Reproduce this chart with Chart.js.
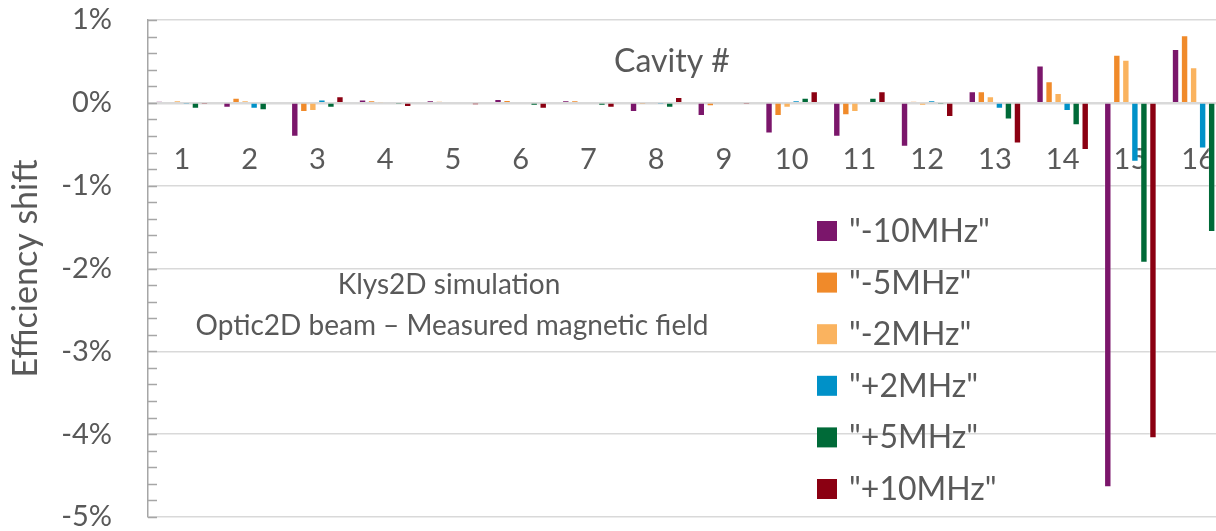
<!DOCTYPE html>
<html>
<head>
<meta charset="utf-8">
<script src="https://cdn.jsdelivr.net/npm/chart.js@4.4.1/dist/chart.umd.min.js"></script>
<style>
  html, body { margin: 0; padding: 0; background: #ffffff; overflow: hidden; }
  #wrap { width: 1240px; height: 531px; }
</style>
</head>
<body>
<div id="wrap"><canvas id="chart" width="1240" height="531"></canvas></div>
<script>
// Cavity numbers along the category axis
const cavities = ['1', '2', '3', '4', '5', '6', '7', '8', '9', '10', '11', '12', '13', '14', '15', '16'];

// Series names (frequency detuning)
const seriesNames = ['"-10MHz"', '"-5MHz"', '"-2MHz"', '"+2MHz"', '"+5MHz"', '"+10MHz"'];

// Efficiency shift per cavity, in percent
const shiftMinus10 = [0.02, -0.06, -0.41, 0.04, 0.03, 0.045, 0.03, -0.11, -0.16, -0.37, -0.41, -0.53, 0.14, 0.45, -4.64, 0.65];
const shiftMinus5  = [0.01, 0.06, -0.11, 0.03, 0.02, 0.035, 0.03, -0.02, -0.04, -0.16, -0.15, 0.02, 0.14, 0.26, 0.58, 0.815];
const shiftMinus2  = [0.03, 0.03, -0.10, 0.005, 0.01, 0.01, 0.01, 0.0, 0.0, -0.06, -0.11, -0.035, 0.08, 0.12, 0.52, 0.43];
const shiftPlus2   = [-0.02, -0.07, 0.04, 0.0, 0.0, 0.0, 0.0, -0.02, 0.01, 0.03, 0.0, 0.03, -0.07, -0.10, -0.71, -0.55];
const shiftPlus5   = [-0.07, -0.09, -0.06, -0.02, 0.0, -0.035, -0.035, -0.06, 0.0, 0.06, 0.06, -0.02, -0.20, -0.27, -1.93, -1.56];
const shiftPlus10  = [-0.02, 0.0, 0.08, -0.05, -0.025, -0.07, -0.06, 0.07, -0.02, 0.14, 0.14, -0.17, -0.49, -0.57, -4.05, -3.0];

// Value axis range and tick step, in percent
const yMin = -5;
const yMax = 1;
const yStep = 1;
const yMinorStep = 0.2;

const seriesColors = ['#7b166b', '#f08a2a', '#fab35f', '#0091c8', '#006a38', '#8b0012'];
const seriesValues = [shiftMinus10, shiftMinus5, shiftMinus2, shiftPlus2, shiftPlus5, shiftPlus10];

const textColor = '#595959';
const fontFamily = 'Lato, "Open Sans", sans-serif';

// Small inside tick marks along the value axis every 0.2 %
const minorTicks = {
  id: 'minorTicks',
  beforeDatasetsDraw(chart) {
    const y = chart.scales.y;
    const ctx = chart.ctx;
    const x0 = chart.chartArea.left;
    ctx.save();
    ctx.strokeStyle = '#a6a6a6';
    ctx.lineWidth = 1.5;
    const n = Math.round((yMax - yMin) / yMinorStep);
    for (let k = 0; k <= n; k++) {
      const py = Math.round(y.getPixelForValue(yMin + k * yMinorStep)) + 0.5;
      ctx.beginPath();
      ctx.moveTo(x0, py);
      ctx.lineTo(x0 + 9, py);
      ctx.stroke();
    }
    ctx.restore();
  }
};

// Axis caption, notes and the series key
const overlayText = {
  id: 'overlayText',
  afterDraw(chart) {
    const ctx = chart.ctx;
    ctx.save();
    ctx.fillStyle = textColor;
    ctx.textBaseline = 'alphabetic';

    ctx.textAlign = 'center';
    ctx.font = '32px ' + fontFamily;
    ctx.fillText('Cavity #', 672, 72);

    ctx.font = '28px ' + fontFamily;
    ctx.fillText('Klys2D simulation', 449, 294);
    ctx.fillText('Optic2D beam \u2013 Measured magnetic field', 452, 335);

    ctx.textAlign = 'left';
    ctx.font = '32px ' + fontFamily;
    chart.data.datasets.forEach((ds, i) => {
      const top = 221 + i * 51.6;
      ctx.fillStyle = ds.backgroundColor;
      ctx.fillRect(817, top, 20, 20);
      ctx.fillStyle = textColor;
      ctx.fillText(ds.label, 849, top + 21);
    });
    ctx.restore();
  }
};

new Chart(document.getElementById('chart'), {
  type: 'bar',
  data: {
    labels: cavities,
    datasets: seriesNames.map((name, i) => ({
      label: name,
      data: seriesValues[i],
      backgroundColor: seriesColors[i],
      borderColor: 'rgba(255,255,255,0.3)',
      borderWidth: 1,
      barPercentage: 0.82,
      categoryPercentage: 0.8
    }))
  },
  options: {
    responsive: false,
    animation: false,
    devicePixelRatio: 1,
    layout: { padding: { top: 20, bottom: 14, left: 0, right: 8 } },
    plugins: {
      legend: { display: false },
      tooltip: { enabled: false }
    },
    scales: {
      x: {
        position: { y: 0 },
        z: 1,
        offset: true,
        grid: { display: false },
        border: { display: true, color: '#d9d9d9', width: 2.5 },
        ticks: {
          color: textColor,
          font: { family: fontFamily, size: 29 },
          padding: 31,
          maxRotation: 0,
          autoSkip: false
        },
        afterFit(scale) {
          scale.paddingLeft = 0;
          scale.paddingRight = 0;
        }
      },
      y: {
        min: yMin,
        max: yMax,
        grid: { color: '#d9d9d9', lineWidth: 1.5, drawTicks: false },
        border: { display: true, color: '#a6a6a6', width: 1.5 },
        ticks: {
          stepSize: yStep,
          color: textColor,
          font: { family: fontFamily, size: 29 },
          padding: 36,
          callback: (v) => v + '%'
        },
        title: {
          display: true,
          text: 'Efficiency shift',
          color: textColor,
          font: { family: fontFamily, size: 34 },
          padding: { top: 6, bottom: 0 }
        },
        afterFit(scale) {
          scale.width = 148;
          scale.paddingTop = 0;
          scale.paddingBottom = 0;
        }
      }
    }
  },
  plugins: [minorTicks, overlayText]
});
</script>
</body>
</html>
